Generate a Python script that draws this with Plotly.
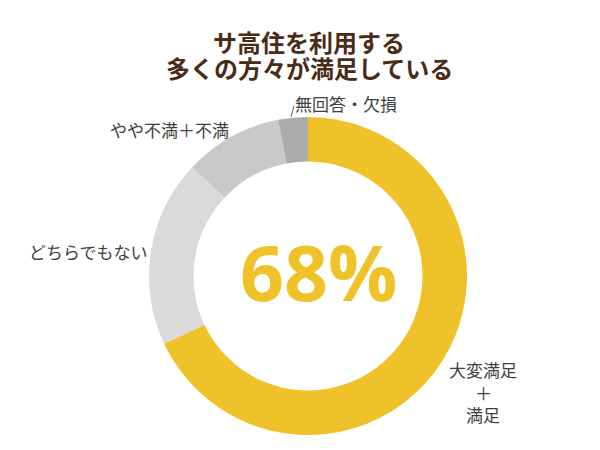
import plotly.graph_objects as go

labels = ["大変満足＋満足", "どちらでもない", "やや不満＋不満", "無回答・欠損"]
values = [68, 19, 10, 3]
colors = ["#F0C229", "#DADADA", "#C9C9C9", "#ABABAB"]

title_lines = ["サ高住を利用する", "多くの方々が満足している"]
center_text = "68%"

# the page adds an 8px body margin, so positions measured on the
# screenshot are shifted back by it
OFF = 8


def px(x, y):
    return (x - OFF) / 600, 1 - (y - OFF) / 450


fig = go.Figure()

x0, y1 = px(149, 117)
x1, y0 = px(467, 435)
fig.add_trace(
    go.Pie(
        labels=labels,
        values=values,
        hole=0.72,
        sort=False,
        direction="clockwise",
        rotation=0,
        marker=dict(colors=colors, line=dict(width=0)),
        textinfo="none",
        hoverinfo="label+percent",
        showlegend=False,
        domain=dict(x=[x0, x1], y=[y0, y1]),
    )
)

title_font = dict(family="Noto Sans CJK JP", size=24, color="#4A2B16")
label_font = dict(family="Noto Sans CJK JP", size=17, color="#404040")

ann_specs = [
    (309, 41, "<b>" + title_lines[0] + "</b>", title_font),
    (309, 67, "<b>" + title_lines[1] + "</b>", title_font),
    (318, 271, "<b>" + center_text + "</b>",
     dict(family="Open Sans", size=77, color="#F0C229")),
    (346, 103, labels[3], label_font),
    (169, 130, labels[2], label_font),
    (88, 251, labels[1], label_font),
    (483, 369, "大変満足", label_font),
    (483, 392, "＋", label_font),
    (483, 414, "満足", label_font),
]
annotations = []
for ax, ay, text, font in ann_specs:
    px_x, px_y = px(ax, ay)
    annotations.append(
        dict(x=px_x, y=px_y, text=text, font=font, xref="paper", yref="paper",
             showarrow=False, xanchor="center", yanchor="middle")
    )

lx0, ly0 = px(291, 117)
lx1, ly1 = px(294, 106)

fig.update_layout(
    width=600,
    height=450,
    margin=dict(l=0, r=0, t=0, b=0),
    paper_bgcolor="white",
    plot_bgcolor="white",
    annotations=annotations,
    shapes=[
        dict(type="line", xref="paper", yref="paper",
             x0=lx0, y0=ly0, x1=lx1, y1=ly1,
             line=dict(color="#606060", width=1)),
    ],
)

fig.write_html("out.html")
